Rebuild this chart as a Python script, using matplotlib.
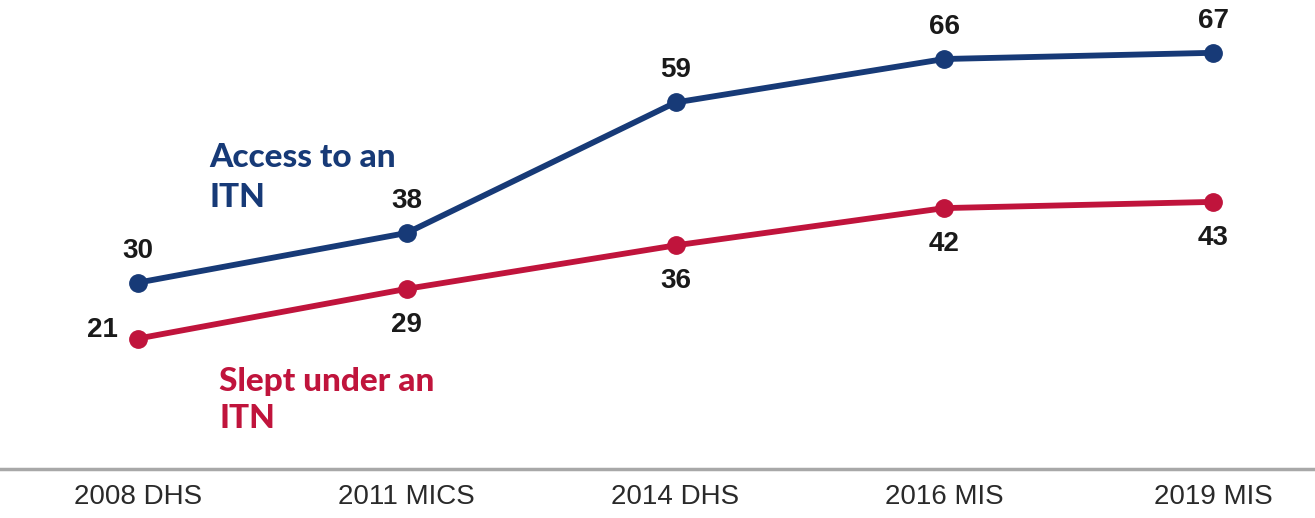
import matplotlib.pyplot as plt

surveys = ['2008 DHS', '2011 MICS', '2014 DHS', '2016 MIS', '2019 MIS']
access = [30, 38, 59, 66, 67]
slept = [21, 29, 36, 42, 43]

blue = '#173a77'
red = '#c0143c'

fig = plt.figure(figsize=(13.15, 5.18), dpi=100)
ax = fig.add_axes([0, 1 - 469 / 518, 1, 469 / 518])

x = list(range(len(surveys)))
ax.plot(x, access, color=blue, lw=4.2, marker='o', ms=12.5, zorder=3)
ax.plot(x, slept, color=red, lw=4.2, marker='o', ms=12.5, zorder=3)

ax.set_xlim(-138 / 268.75, (1315 - 138) / 268.75)
ax.set_ylim(0, 75.5)

for i, v in enumerate(access):
    ax.annotate(str(v), (i, v), xytext=(0, 32), textcoords='offset pixels',
                ha='center', va='center', fontsize=20, fontweight='bold',
                family='Liberation Sans', color='#1a1a1a')

for i, v in enumerate(slept):
    if i == 0:
        off, ha = (-20, 9), 'right'
    else:
        off, ha = (0, -36), 'center'
    ax.annotate(str(v), (i, v), xytext=off, textcoords='offset pixels',
                ha=ha, va='center', fontsize=20, fontweight='bold',
                family='Liberation Sans', color='#1a1a1a')

# series labels, one text per line so they sit like the original
label_kw = dict(transform=ax.transAxes, ha='left', va='baseline', fontsize=24,
                fontweight='black', family='Lato')
ax.text(209 / 1315, 1 - 167 / 469, 'Access to an', color=blue, **label_kw)
ax.text(209 / 1315, 1 - 207 / 469, 'ITN', color=blue, **label_kw)
ax.text(219 / 1315, 1 - 391 / 469, 'Slept under an', color=red, **label_kw)
ax.text(219 / 1315, 1 - 428 / 469, 'ITN', color=red, **label_kw)

for side in ['top', 'left', 'right']:
    ax.spines[side].set_visible(False)
ax.spines['bottom'].set_color('#a8a8a8')
ax.spines['bottom'].set_linewidth(2.5)

ax.set_yticks([])
ax.set_xticks(x)
ax.set_xticklabels(surveys, fontsize=20, family='Liberation Sans', color='#2a2a2a')
ax.tick_params(axis='x', length=0, pad=11)

fig.savefig('out.png', dpi=100)
